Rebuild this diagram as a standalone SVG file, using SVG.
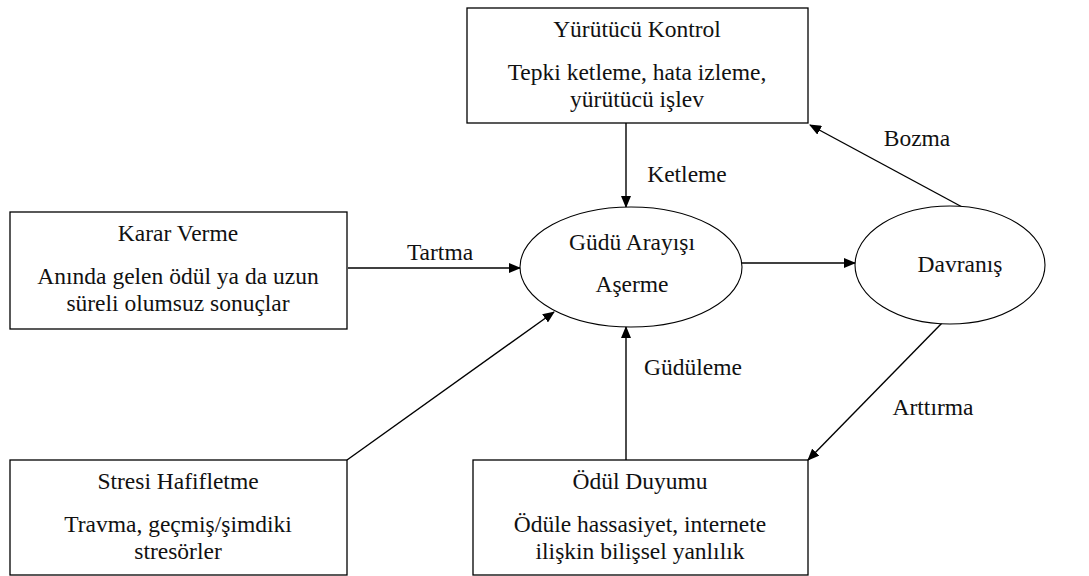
<svg xmlns="http://www.w3.org/2000/svg" width="1089" height="576" viewBox="0 0 1089 576">
<defs>
<marker id="ah" markerWidth="12" markerHeight="10" refX="11" refY="5" orient="auto" markerUnits="userSpaceOnUse">
<path d="M0,0 L12,5 L0,10 Z" fill="#000"/>
</marker>
<style>
.box{fill:#fff;stroke:#000;stroke-width:1.3}
.ell{fill:#fff;stroke:#000;stroke-width:1.1}
.t{font-family:'Liberation Serif','Times New Roman','DejaVu Serif',serif;font-size:23.5px;fill:#111;text-anchor:middle}
.c{stroke:#000;stroke-width:1.4;fill:none}
</style>
</defs>
<rect width="1089" height="576" fill="#fff"/>
<g id="connectors">
<line class="c" x1="626" y1="123" x2="626" y2="207" marker-end="url(#ah)"/>
<line class="c" x1="348" y1="268" x2="520" y2="268" marker-end="url(#ah)"/>
<line class="c" x1="742" y1="263" x2="855" y2="263" marker-end="url(#ah)"/>
<line class="c" x1="964" y1="208" x2="810" y2="125" marker-end="url(#ah)"/>
<line class="c" x1="942" y1="323" x2="808" y2="460" marker-end="url(#ah)"/>
<line class="c" x1="626" y1="460" x2="626" y2="327" marker-end="url(#ah)"/>
<line class="c" x1="347" y1="460" x2="554" y2="312" marker-end="url(#ah)"/>
<text class="t" x="687" y="182">Ketleme</text>
<text class="t" x="440" y="260">Tartma</text>
<text class="t" x="917" y="146">Bozma</text>
<text class="t" x="933" y="415">Arttırma</text>
<text class="t" x="693" y="375">Güdüleme</text>
</g>
<g id="yurutucu">
<rect class="box" x="467" y="8" width="341" height="115"/>
<text class="t" x="637" y="37">Yürütücü Kontrol</text>
<text class="t" x="637" y="80">Tepki ketleme, hata izleme,</text>
<text class="t" x="637" y="107">yürütücü işlev</text>
</g>
<g id="karar">
<rect class="box" x="10" y="212" width="337" height="117"/>
<text class="t" x="178" y="241">Karar Verme</text>
<text class="t" x="178" y="284">Anında gelen ödül ya da uzun</text>
<text class="t" x="178" y="311">süreli olumsuz sonuçlar</text>
</g>
<g id="gudu">
<ellipse class="ell" cx="631" cy="267" rx="111" ry="60"/>
<text class="t" x="632" y="250">Güdü Arayışı</text>
<text class="t" x="632" y="292">Aşerme</text>
</g>
<g id="davranis">
<ellipse class="ell" cx="950" cy="265" rx="95" ry="59"/>
<text class="t" x="960" y="272">Davranış</text>
</g>
<g id="stresi">
<rect class="box" x="10" y="460" width="337" height="115"/>
<text class="t" x="178" y="489">Stresi Hafifletme</text>
<text class="t" x="178" y="532">Travma, geçmiş/şimdiki</text>
<text class="t" x="178" y="559">stresörler</text>
</g>
<g id="odul">
<rect class="box" x="473" y="460" width="335" height="115"/>
<text class="t" x="640" y="489">Ödül Duyumu</text>
<text class="t" x="640" y="532">Ödüle hassasiyet, internete</text>
<text class="t" x="640" y="559">ilişkin bilişsel yanlılık</text>
</g>
</svg>
